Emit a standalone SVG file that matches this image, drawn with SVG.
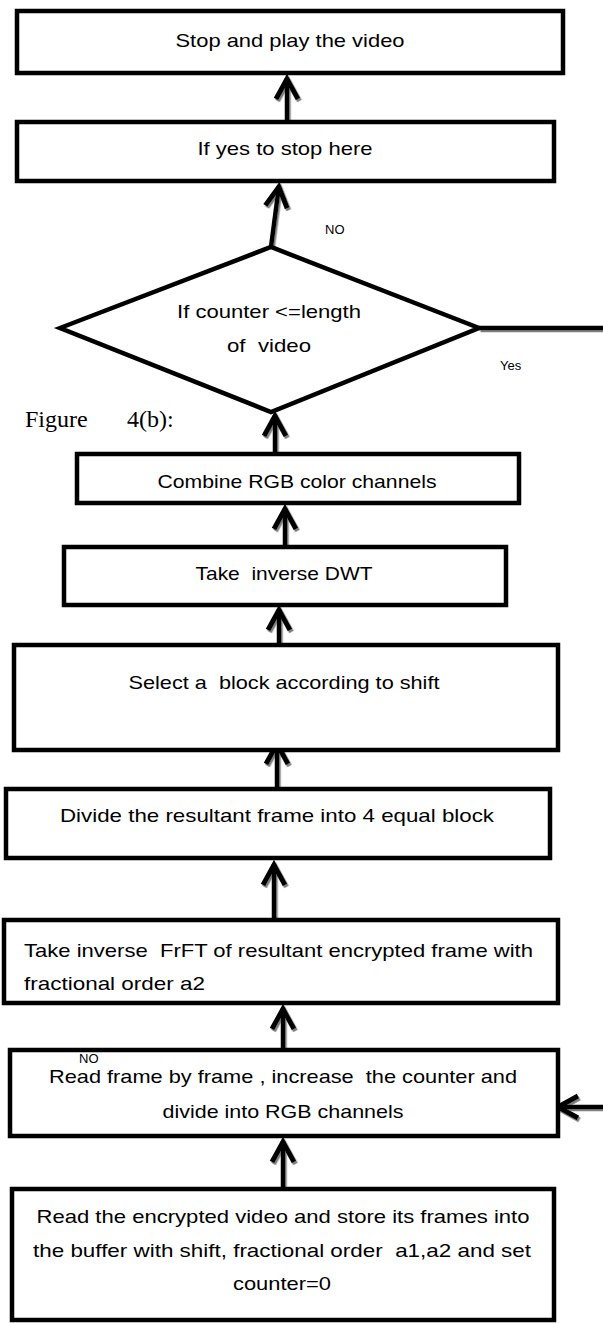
<svg xmlns="http://www.w3.org/2000/svg" width="603" height="1324" viewBox="0 0 603 1324">
<style>
.box{fill:#fff;stroke:#000;stroke-width:4.5}
.t{font-family:"Liberation Sans",Arial,sans-serif;font-size:19px;fill:#000}
.c{text-anchor:middle}
.s{font-family:"Liberation Sans",Arial,sans-serif;font-size:13px;fill:#000}
.fig{font-family:"Liberation Serif","Times New Roman",serif;font-size:24px;fill:#000}
.con{fill:none;stroke:#000;stroke-width:4.5}
</style>
<defs>
<filter id="sh" x="-20%" y="-20%" width="140%" height="140%">
<feDropShadow dx="1.5" dy="2" stdDeviation="0.6" flood-color="#7f7f7f" flood-opacity="1"/>
</filter>
<marker id="ah" markerUnits="userSpaceOnUse" markerWidth="40" markerHeight="40" viewBox="-30 -20 40 40" refX="0" refY="0" orient="auto">
<path d="M-21,-11 L-1,0 L-21,11" fill="none" stroke="#000" stroke-width="5" stroke-linejoin="miter"/>
</marker>
<clipPath id="clipYes"><rect x="0" y="1100" width="603" height="37"/></clipPath>
</defs>

<g id="connectors" filter="url(#sh)">
<path class="con" d="M287,120 L287,78" marker-end="url(#ah)"/>
<path class="con" d="M271,247 L279,186" marker-end="url(#ah)"/>
<path class="con" d="M275,453 L275,415" marker-end="url(#ah)"/>
<path class="con" d="M285,545 L285,508" marker-end="url(#ah)"/>
<path class="con" d="M279,643 L279,609" marker-end="url(#ah)"/>
<path class="con" d="M277,788 L277,743" marker-end="url(#ah)"/>
<path class="con" d="M274,918 L274,864" marker-end="url(#ah)"/>
<path class="con" d="M283,1048 L283,1008" marker-end="url(#ah)"/>
<path class="con" d="M283,1187 L283,1141" marker-end="url(#ah)"/>
<path class="con" d="M479,328 L603,328"/>
<path class="con" d="M603,1107 L557,1107" marker-end="url(#ah)"/>
</g>

<g id="n1">
<rect class="box" x="17" y="11" width="546" height="62"/>
<text class="t c" x="290" y="47" textLength="229" lengthAdjust="spacingAndGlyphs">Stop and play the video</text>
</g>

<g id="n2">
<rect class="box" x="17" y="122" width="537" height="59"/>
<text class="t c" x="285" y="155" textLength="175" lengthAdjust="spacingAndGlyphs">If yes to stop here</text>
</g>

<g id="n3">
<polygon class="box" points="60,328 271,247 479,328 271,412"/>
<text class="t c" x="269" y="318" textLength="184" lengthAdjust="spacingAndGlyphs">If counter &lt;=length</text>
<text class="t c" x="269" y="352" textLength="84" lengthAdjust="spacingAndGlyphs" xml:space="preserve">of  video</text>
</g>

<g id="lbl-no1"><text class="s" x="325" y="234">NO</text></g>
<g id="lbl-yes1"><text class="s" x="500" y="370">Yes</text></g>

<g id="caption">
<text class="fig" y="427"><tspan x="25">Figure</tspan><tspan x="127">4(b):</tspan></text>
</g>

<g id="n4">
<rect class="box" x="77" y="454" width="442" height="49"/>
<text class="t c" x="297" y="488" textLength="279" lengthAdjust="spacingAndGlyphs">Combine RGB color channels</text>
</g>

<g id="n5">
<rect class="box" x="64" y="547" width="442" height="58"/>
<text class="t c" x="284" y="580" textLength="177" lengthAdjust="spacingAndGlyphs" xml:space="preserve">Take  inverse DWT</text>
</g>

<g id="n6">
<rect class="box" x="14" y="645" width="544" height="105"/>
<text class="t c" x="284" y="689" textLength="311" lengthAdjust="spacingAndGlyphs" xml:space="preserve">Select a  block according to shift</text>
</g>

<g id="n7">
<rect class="box" x="6" y="789" width="544" height="69"/>
<text class="t c" x="277" y="822" textLength="434" lengthAdjust="spacingAndGlyphs">Divide the resultant frame into 4 equal block</text>
</g>

<g id="n8">
<rect class="box" x="4" y="920" width="554" height="83"/>
<text class="t" x="24" y="957" textLength="509" lengthAdjust="spacingAndGlyphs" xml:space="preserve">Take inverse  FrFT of resultant encrypted frame with</text>
<text class="t" x="24" y="990" textLength="181" lengthAdjust="spacingAndGlyphs">fractional order a2</text>
</g>

<g id="n9">
<rect class="box" x="10" y="1050" width="548" height="86"/>
<text class="t c" x="283" y="1083" textLength="468" lengthAdjust="spacingAndGlyphs" xml:space="preserve">Read frame by frame , increase  the counter and</text>
<text class="t c" x="283" y="1118" textLength="241" lengthAdjust="spacingAndGlyphs">divide into RGB channels</text>
<text class="s" x="79" y="1063">NO</text>
<text class="s" x="408" y="1144" clip-path="url(#clipYes)">Yes</text>
</g>

<g id="n10">
<rect class="box" x="12" y="1189" width="542" height="131"/>
<text class="t c" x="283" y="1223" textLength="493" lengthAdjust="spacingAndGlyphs">Read the encrypted video and store its frames into</text>
<text class="t c" x="282" y="1257" textLength="498" lengthAdjust="spacingAndGlyphs" xml:space="preserve">the buffer with shift, fractional order  a1,a2 and set</text>
<text class="t c" x="282" y="1290" textLength="98" lengthAdjust="spacingAndGlyphs">counter=0</text>
</g>
</svg>
